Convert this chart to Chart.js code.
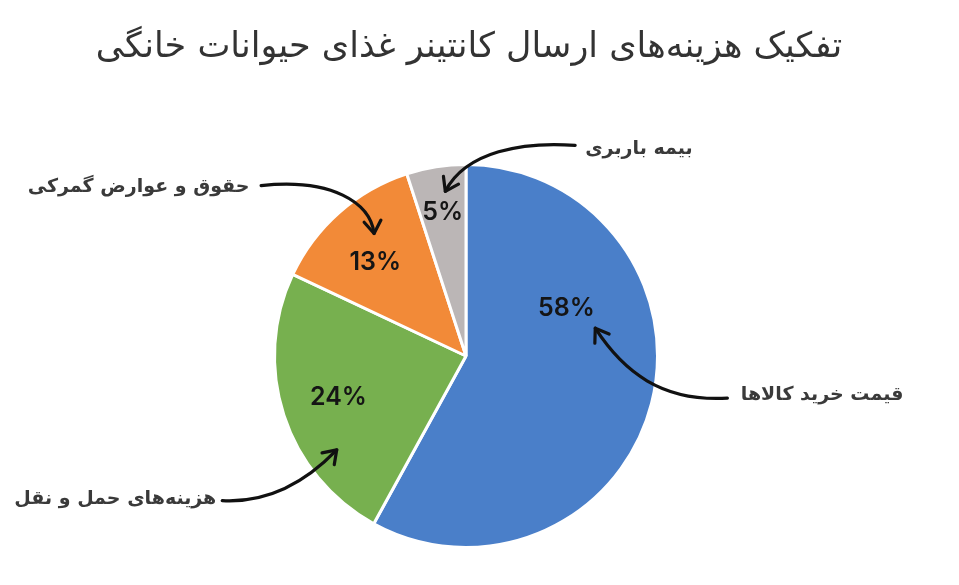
<!DOCTYPE html>
<html>
<head>
<meta charset="utf-8">
<script src="https://cdn.jsdelivr.net/npm/chart.js@4.4.1/dist/chart.umd.min.js"></script>
<style>
  html, body { margin: 0; padding: 0; background: #ffffff; }
  #wrap { width: 959px; height: 585px; position: relative; }
</style>
</head>
<body>
<div id="wrap"><canvas id="chart" width="959" height="585"></canvas></div>
<script>
// Data
const titleText = 'تفکیک هزینه\u200cهای ارسال کانتینر غذای حیوانات خانگی'
const categories = ['قیمت خرید کالاها', 'هزینه\u200cهای حمل و نقل', 'حقوق و عوارض گمرکی', 'بیمه باربری']
const shares = [58, 24, 13, 5]
const percentLabels = ['58%', '24%', '13%', '5%']

// Styles
const sliceColors = ['#4a7fc9', '#77b04f', '#f28a38', '#bbb6b6']

// label placement inside each slice: fraction along the arc and fraction of radius
const labelSpot = [
	{ along: 0.31, out: 0.58 },
	{ along: 0.50, out: 0.70 },
	{ along: 0.44, out: 0.68 },
	{ along: 0.49, out: 0.76 }
]

// callouts, in units of pie radius relative to the pie centre
// text: anchor + align, path: tail, two control points, tip
const callouts = [
	{ text: [1.435, 0.205, 'left'],  path: [[1.365, 0.22], [1.02, 0.24], [0.82, 0.08], [0.675, -0.145]] },
	{ text: [-1.304, 0.745, 'right'], path: [[-1.273, 0.755], [-1.0, 0.77], [-0.80, 0.62], [-0.675, 0.49]] },
	{ text: [-1.131, -0.88, 'right'], path: [[-1.07, -0.89], [-0.70, -0.93], [-0.50, -0.80], [-0.48, -0.64]] },
	{ text: [1.183, -1.079, 'right'], path: [[0.57, -1.10], [0.30, -1.12], [0.00, -1.07], [-0.108, -0.86]] }
]

const persianFont = '"DejaVu Sans", "Noto Sans", sans-serif'

// Plugin that paints the title, the percent labels and the arrows
const decorations = {
	id: 'decorations',
	afterDatasetsDraw(chart) {
		const ctx = chart.ctx
		const meta = chart.getDatasetMeta(0)
		const first = meta.data[0]
		const cx = first.x, cy = first.y, r = first.outerRadius

		ctx.save()

		// Title
		ctx.direction = 'rtl'
		ctx.fillStyle = '#333333'
		ctx.textAlign = 'center'
		ctx.textBaseline = 'middle'
		ctx.font = '500 35px ' + persianFont
		ctx.fillText(titleText, 469, 48)

		// Percent labels
		ctx.direction = 'ltr'
		ctx.fillStyle = '#151515'
		ctx.font = '600 25px Inter, "Open Sans", sans-serif'
		meta.data.forEach((arc, i) => {
			const a = arc.startAngle + (arc.endAngle - arc.startAngle) * labelSpot[i].along
			const rr = arc.outerRadius * labelSpot[i].out
			ctx.fillText(percentLabels[i], arc.x + Math.cos(a) * rr, arc.y + Math.sin(a) * rr)
		})

		// Callout texts
		ctx.direction = 'rtl'
		ctx.fillStyle = '#3a3a3a'
		ctx.font = 'bold 19px ' + persianFont
		callouts.forEach((c, i) => {
			ctx.textAlign = c.text[2]
			ctx.fillText(categories[i], cx + c.text[0] * r, cy + c.text[1] * r)
		})

		// Arrows
		ctx.strokeStyle = '#111111'
		ctx.lineWidth = 3.2
		ctx.lineCap = 'round'
		ctx.lineJoin = 'round'
		callouts.forEach((c) => {
			const p = c.path.map(([x, y]) => [cx + x * r, cy + y * r])
			ctx.beginPath()
			ctx.moveTo(p[0][0], p[0][1])
			ctx.bezierCurveTo(p[1][0], p[1][1], p[2][0], p[2][1], p[3][0], p[3][1])
			ctx.stroke()
			// arrowhead along the last tangent
			const ang = Math.atan2(p[3][1] - p[2][1], p[3][0] - p[2][0])
			const len = 15
			ctx.beginPath()
			ctx.moveTo(p[3][0] - len * Math.cos(ang - 0.6), p[3][1] - len * Math.sin(ang - 0.6))
			ctx.lineTo(p[3][0], p[3][1])
			ctx.lineTo(p[3][0] - len * Math.cos(ang + 0.6), p[3][1] - len * Math.sin(ang + 0.6))
			ctx.stroke()
		})

		ctx.restore()
	}
}

new Chart(document.getElementById('chart'), {
	type: 'pie',
	data: {
		labels: categories,
		datasets: [{
			data: shares,
			backgroundColor: sliceColors,
			borderColor: '#ffffff',
			borderWidth: 3,
			hoverOffset: 0
		}]
	},
	options: {
		responsive: false,
		animation: false,
		layout: { padding: { left: 273, right: 300, top: 163, bottom: 36 } },
		plugins: {
			legend: { display: false },
			tooltip: { enabled: false },
			title: { display: false }
		}
	},
	plugins: [decorations]
})
</script>
</body>
</html>
